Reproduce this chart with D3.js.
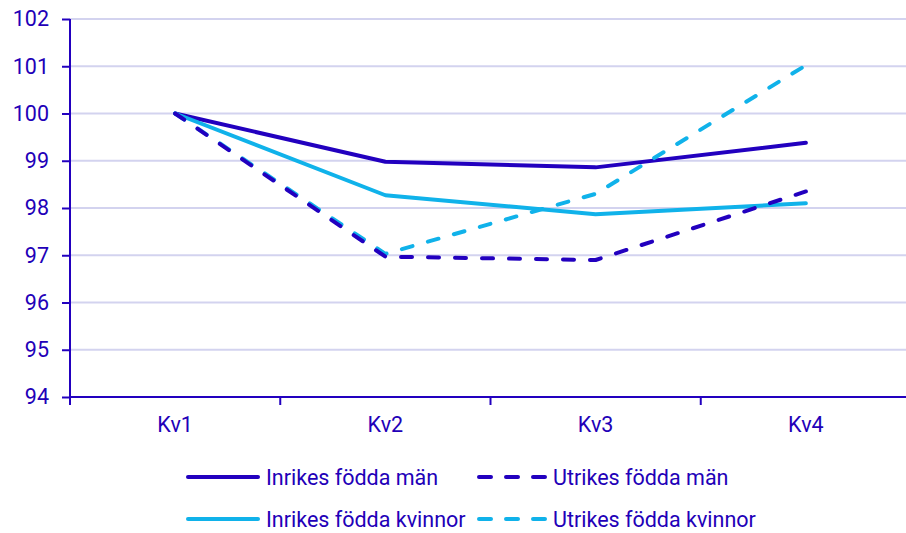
<!DOCTYPE html>
<html><head><meta charset="utf-8">
<script src="https://cdn.jsdelivr.net/npm/d3@7"></script>
<style>
body{margin:0;background:#fff;}
text{font-family:Roboto, "Noto Sans", sans-serif;}
</style></head>
<body><svg id="c" width="906" height="533"></svg>
<script>
const categories = ["Kv1","Kv2","Kv3","Kv4"];
const inrikesMan = [100, 98.98, 98.86, 99.38];
const utrikesMan = [100, 96.97, 96.90, 98.35];
const inrikesKvinnor = [100, 98.27, 97.87, 98.10];
const utrikesKvinnor = [100, 97.03, 98.30, 101.02];
const yTicks = [94,95,96,97,98,99,100,101,102];

const dark = "#2200bf", cyan = "#10b2ea", textCol = "#2200b8";
const series = [
  {name:"Inrikes födda män", values:inrikesMan, color:dark, dash:null},
  {name:"Utrikes födda män", values:utrikesMan, color:dark, dash:"11,16"},
  {name:"Inrikes födda kvinnor", values:inrikesKvinnor, color:cyan, dash:null},
  {name:"Utrikes födda kvinnor", values:utrikesKvinnor, color:cyan, dash:"11,16"}
];

const svg = d3.select("#c");
const L = 70, R = 911, T = 19, B = 397;
const x = d3.scaleBand().domain(categories).range([L, R]);
const y = d3.scaleLinear().domain([94, 102]).range([B, T]);

// gridlines
svg.append("g").selectAll("line").data(yTicks.filter(d=>d>94)).join("line")
  .attr("x1", L).attr("x2", R).attr("y1", d=>y(d)).attr("y2", d=>y(d))
  .attr("stroke", "#d3d3ef").attr("stroke-width", 2);

// y axis
const ya = svg.append("g").attr("transform", `translate(${L},0)`)
  .call(d3.axisLeft(y).tickValues(yTicks).tickSize(8).tickPadding(13).tickFormat(d3.format("d")));
ya.select(".domain").attr("stroke", dark).attr("stroke-width", 2).attr("d", `M0,${T}V${B+8}`);
ya.selectAll(".tick line").attr("stroke", dark).attr("stroke-width", 2);
ya.selectAll(".tick text").attr("fill", textCol).attr("font-size", 21.5).attr("font-family","Roboto");

// x axis
const xa = svg.append("g").attr("transform", `translate(0,${B})`)
  .call(d3.axisBottom(x).tickSize(0).tickPadding(20));
xa.select(".domain").attr("stroke", dark).attr("stroke-width", 2).attr("d", `M${L},0H${R}`);
xa.selectAll(".tick text").attr("fill", textCol).attr("font-size", 21.5).attr("font-family","Roboto");
// boundary ticks
xa.append("g").selectAll("line").data(categories.slice(1)).join("line")
  .attr("x1", d=>x(d)).attr("x2", d=>x(d)).attr("y1", 0).attr("y2", 8)
  .attr("stroke", dark).attr("stroke-width", 2);

const line = d3.line().x((d,i)=>x(categories[i]) + x.bandwidth()/2).y(d=>y(d));
const drawOrder = [series[0], series[2], series[3], series[1]];
svg.append("g").selectAll("path").data(drawOrder).join("path")
  .attr("d", d=>line(d.values)).attr("fill","none")
  .attr("stroke", d=>d.color).attr("stroke-width", 4)
  .attr("stroke-linecap","round").attr("stroke-linejoin","round")
  .attr("stroke-dasharray", d=>d.dash);

// legend
const legPos = [[188,477],[479,477],[188,519],[479,519]];
const lg = svg.append("g").selectAll("g").data(series).join("g")
  .attr("transform",(d,i)=>`translate(${legPos[i][0]},${legPos[i][1]})`);
lg.append("line").attr("x1",0).attr("x2",d=>d.dash?68:70).attr("y1",0).attr("y2",0)
  .attr("stroke",d=>d.color).attr("stroke-width",4)
  .attr("stroke-linecap","round").attr("stroke-dasharray",d=>d.dash?"12,15":null);
lg.append("text").attr("x",d=>d.dash?74:78).attr("y",0).attr("dy","0.35em")
  .attr("fill",textCol).attr("font-size",21.5).text(d=>d.name);
</script></body></html>
